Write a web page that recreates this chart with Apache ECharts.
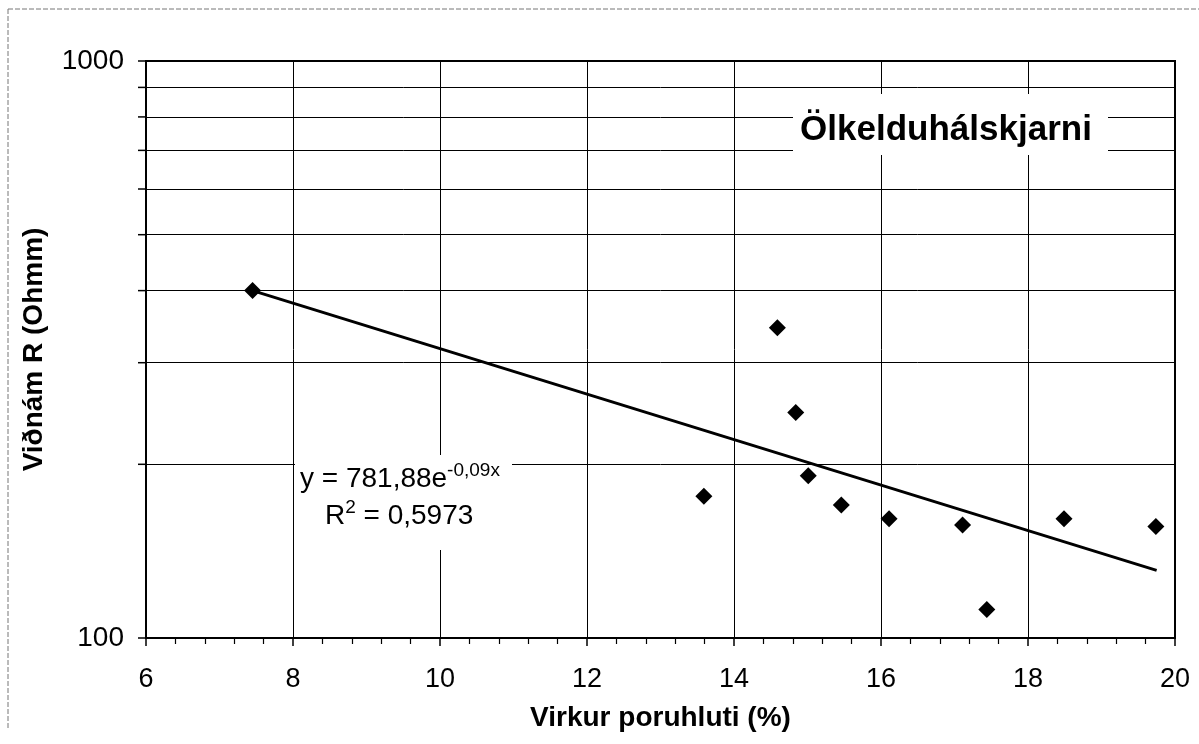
<!DOCTYPE html>
<html><head><meta charset="utf-8">
<script src="https://cdn.jsdelivr.net/npm/echarts@6/dist/echarts.min.js"></script>
<style>html,body{margin:0;padding:0;background:#fff}#c{width:1199px;height:744px}</style>
</head><body><div id="c"></div>
<script>
// ---- data ----
const porosity    = [7.45, 14.59, 14.84, 15.01, 13.59, 15.46, 16.11, 17.11, 17.44, 18.49, 19.74];
const resistivity = [400,  345,   246,   191,   176,   170,   161,   157,   112,   161,   156];
const trendX = [7.45, 19.75];
const trendY = [400, 131];
const xTickValues = [6, 8, 10, 12, 14, 16, 18, 20];
const yTickLabels = [100, 1000];
const yGridValues = [200, 300, 400, 500, 600, 700, 800, 900];
const chartTitle = 'Ölkelduhálskjarni';
const xAxisTitle = 'Virkur poruhluti (%)';
const yAxisTitle = 'Viðnám R (Ohmm)';
const eqMain = 'y = 781,88e', eqExp = '-0,09x';
const r2Label = 'R', r2Exp = '2', r2Value = ' = 0,5973';

const FONT = '"Liberation Sans", Arial, sans-serif';
const chart = echarts.init(document.getElementById('c'), null, {renderer: 'canvas'});

const option = {
  backgroundColor: '#fff',
  animation: false,
  grid: {left: 146, right: 24, top: 61, bottom: 106, show: true, borderColor: '#000', borderWidth: 2, backgroundColor: 'transparent'},
  xAxis: {
    type: 'value', min: xTickValues[0], max: xTickValues[xTickValues.length - 1], interval: 2,
    name: xAxisTitle, nameLocation: 'middle', nameGap: 66,
    nameTextStyle: {fontFamily: FONT, fontSize: 28, fontWeight: 'bold', color: '#000'},
    axisLine: {show: true, lineStyle: {color: '#000', width: 2}},
    axisTick: {show: true, inside: false, length: 8, lineStyle: {color: '#000', width: 1.5}},
    minorTick: {show: true, splitNumber: 5, length: 6, lineStyle: {color: '#000', width: 1.2}},
    axisLabel: {fontFamily: FONT, fontSize: 27, color: '#000', margin: 28},
    splitLine: {show: true, lineStyle: {color: '#000', width: 1}}
  },
  yAxis: {
    type: 'log', logBase: 10, min: yTickLabels[0], max: yTickLabels[1],
    name: yAxisTitle, nameLocation: 'middle', nameGap: 98, nameRotate: 90,
    nameTextStyle: {fontFamily: FONT, fontSize: 28, fontWeight: 'bold', color: '#000'},
    axisLine: {show: true, lineStyle: {color: '#000', width: 2}},
    axisTick: {show: true, inside: false, length: 8, lineStyle: {color: '#000', width: 1.5}},
    axisLabel: {fontFamily: FONT, fontSize: 28, color: '#000', margin: 22, formatter: v => String(Math.round(v))},
    splitLine: {show: false}
  },
  series: [
    {
      type: 'scatter', name: 'yticks', silent: true, clip: false, z: 1,
      symbol: 'rect', symbolSize: [8, 1.5], symbolOffset: [-4, 0],
      itemStyle: {color: '#000', opacity: 1},
      data: yGridValues.map(v => [xTickValues[0], v]),
      markLine: {
        silent: true, symbol: ['none', 'none'], label: {show: false},
        lineStyle: {color: '#000', type: 'solid', width: 1},
        emphasis: {disabled: true},
        data: yGridValues.map(v => ({yAxis: v}))
      }
    },
    {
      type: 'line', name: 'trend', silent: true, showSymbol: false, symbol: 'none', z: 3,
      lineStyle: {color: '#000', width: 3},
      data: trendX.map((x, i) => [x, trendY[i]])
    },
    {
      type: 'scatter', name: 'data', silent: true, z: 4,
      symbol: 'diamond', symbolSize: 17,
      itemStyle: {color: '#000', opacity: 1},
      data: porosity.map((x, i) => [x, resistivity[i]])
    }
  ],
  graphic: [
    {type: 'line', z: 100, silent: true, shape: {x1: 8, y1: 9, x2: 1199, y2: 9}, style: {stroke: '#777', lineWidth: 1, lineDash: [5, 2]}},
    {type: 'line', z: 100, silent: true, shape: {x1: 8, y1: 9, x2: 8, y2: 728}, style: {stroke: '#777', lineWidth: 1, lineDash: [5, 2]}},
    {type: 'rect', z: 100, silent: true, shape: {x: 793, y: 94, width: 315, height: 61}, style: {fill: '#fff'}},
    {type: 'text', z: 101, silent: true, x: 946, y: 130,
      style: {text: chartTitle, font: 'bold 35px ' + FONT, fill: '#000', align: 'center', verticalAlign: 'middle'}},
    {type: 'rect', z: 100, silent: true, shape: {x: 295, y: 455, width: 217, height: 95}, style: {fill: '#fff'}},
    {type: 'text', z: 101, silent: true, x: 300, y: 479,
      style: {
        text: '{m|' + eqMain + '}{s|' + eqExp + '}', align: 'left', verticalAlign: 'middle',
        rich: {
          m: {fontFamily: FONT, fontSize: 28, lineHeight: 36, fill: '#000', color: '#000'},
          s: {fontFamily: FONT, fontSize: 19, lineHeight: 19, verticalAlign: 'top', fill: '#000', color: '#000'}
        }
      }},
    {type: 'text', z: 101, silent: true, x: 325, y: 516,
      style: {
        text: '{m|' + r2Label + '}{s|' + r2Exp + '}{m|' + r2Value + '}', align: 'left', verticalAlign: 'middle',
        rich: {
          m: {fontFamily: FONT, fontSize: 28, lineHeight: 36, fill: '#000', color: '#000'},
          s: {fontFamily: FONT, fontSize: 19, lineHeight: 19, verticalAlign: 'top', fill: '#000', color: '#000'}
        }
      }}
  ]
};
chart.setOption(option);
</script>
</body></html>
